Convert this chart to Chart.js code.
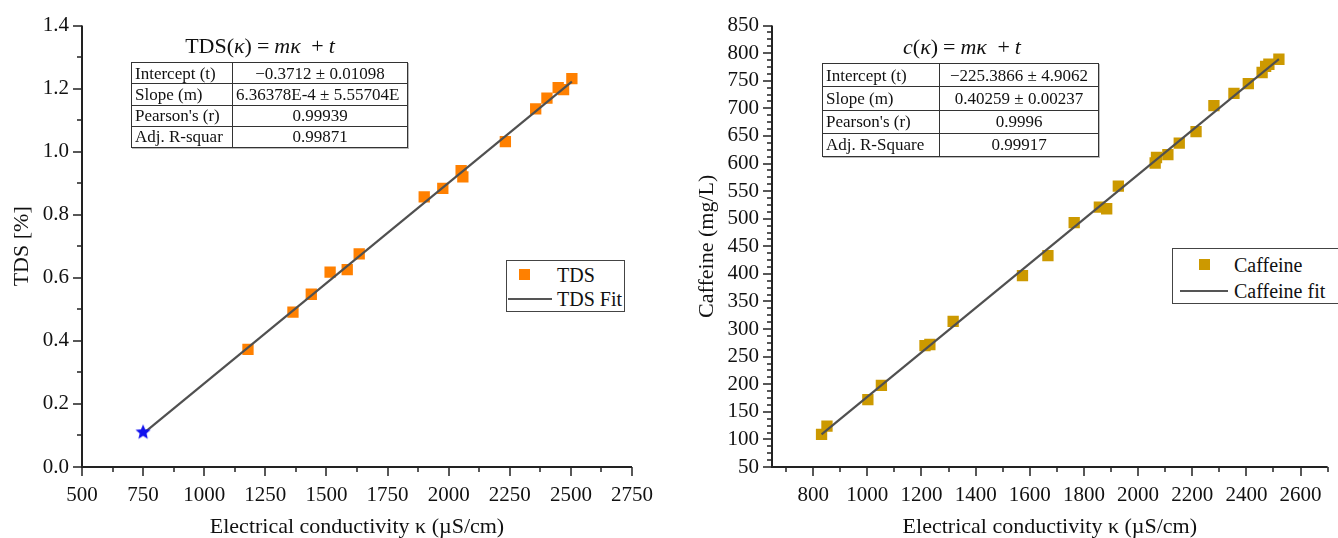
<!DOCTYPE html>
<html>
<head>
<meta charset="utf-8">
<script src="https://cdn.jsdelivr.net/npm/chart.js@4/dist/chart.umd.min.js"></script>
<style>
    html, body { margin: 0; padding: 0; background: #fff; overflow: hidden; }
    #wrap { position: relative; width: 1338px; height: 538px; overflow: hidden; font-family: "Liberation Serif", serif; color: #111; }
    .panel { position: absolute; top: 0; width: 669px; height: 538px; }
    .eq { position: absolute; font-size: 22px; white-space: nowrap; transform: translate(-50%, -50%); }
    .eq i { font-style: italic; }
    .eq .op { padding: 0 5px; }
    table.fit { position: absolute; border-collapse: collapse; font-size: 17px; table-layout: fixed; box-shadow: 1px 1px 0 #bbb; background: #fff; }
    table.fit td { border: 1px solid #333; padding: 0 3px; white-space: nowrap; overflow: hidden; line-height: 1; }
    table.fit td.v { text-align: center; }
    .legend { position: absolute; border: 1.5px solid #444; background: #fff; font-size: 20px; }
    .legend .sq { position: absolute; width: 11px; height: 11px; }
    .legend .ln { position: absolute; height: 2px; background: #555; }
    .legend .lb { position: absolute; white-space: nowrap; transform: translateY(-50%); }
</style>
</head>
<body>
<div id="wrap">
    <div class="panel" style="left:0"><canvas id="tds" width="669" height="538"></canvas></div>
    <div class="panel" style="left:669px"><canvas id="caff" width="669" height="538"></canvas></div>

    <div class="eq" style="left:260px; top:46px">TDS(<i>κ</i>)<span class="op">=</span><i>mκ</i>&nbsp;<span class="op">+</span><i>t</i></div>
    <table class="fit" style="left:131px; top:62px; width:277px; height:86px">
        <colgroup><col style="width:101px"><col></colgroup>
        <tr><td>Intercept (t)</td><td class="v">−0.3712 ± 0.01098</td></tr>
        <tr><td>Slope (m)</td><td class="v" style="text-align:left">6.36378E-4 ± 5.55704E</td></tr>
        <tr><td>Pearson's (r)</td><td class="v">0.99939</td></tr>
        <tr><td>Adj. R-squar</td><td class="v">0.99871</td></tr>
    </table>

    <div class="eq" style="left:962px; top:47px"><i>c</i>(<i>κ</i>)<span class="op">=</span><i>mκ</i>&nbsp;<span class="op">+</span><i>t</i></div>
    <table class="fit" style="left:822px; top:63px; width:277px; height:94px">
        <colgroup><col style="width:117px"><col></colgroup>
        <tr><td>Intercept (t)</td><td class="v">−225.3866 ± 4.9062</td></tr>
        <tr><td>Slope (m)</td><td class="v">0.40259 ± 0.00237</td></tr>
        <tr><td>Pearson's (r)</td><td class="v">0.9996</td></tr>
        <tr><td>Adj. R-Square</td><td class="v">0.99917</td></tr>
    </table>

    <div class="legend" style="left:506px; top:260px; width:117px; height:50px">
        <div class="sq" style="left:12px; top:8px; background:#ff8000"></div>
        <div class="lb" style="left:50px; top:14px">TDS</div>
        <div class="ln" style="left:1px; width:44px; top:37px"></div>
        <div class="lb" style="left:50px; top:38px">TDS Fit</div>
    </div>

    <div class="legend" style="left:1172px; top:248px; width:200px; height:54px">
        <div class="sq" style="left:26px; top:10px; background:#cc9900"></div>
        <div class="lb" style="left:61px; top:16px">Caffeine</div>
        <div class="ln" style="left:7px; width:48px; top:41px"></div>
        <div class="lb" style="left:61px; top:42px">Caffeine fit</div>
    </div>
</div>

<script>
// TDS vs conductivity
const tdsKappa = [1179, 1363, 1438, 1515, 1585, 1634, 1900, 1976, 2051, 2058, 2232, 2356, 2402, 2448, 2470, 2504];
const tdsValue = [0.373, 0.491, 0.548, 0.618, 0.626, 0.676, 0.857, 0.884, 0.940, 0.920, 1.032, 1.136, 1.170, 1.203, 1.197, 1.232];
const tdsStar = [{ x: 750, y: 0.11 }];
const tdsFit = [{ x: 750, y: 0.106 }, { x: 2504, y: 1.222 }];
const tdsXTicks = [500, 750, 1000, 1250, 1500, 1750, 2000, 2250, 2500, 2750];
const tdsYTicks = [0, 0.2, 0.4, 0.6, 0.8, 1.0, 1.2, 1.4];

// Caffeine vs conductivity
const caffKappa = [831, 851, 1002, 1052, 1213, 1231, 1317, 1573, 1667, 1764, 1857, 1884, 1927, 2063, 2068, 2110, 2152, 2214, 2280, 2354, 2407, 2458, 2471, 2483, 2520];
const caffValue = [109, 124, 172, 198, 270, 272, 314, 397, 433, 493, 521, 518, 559, 601, 611, 616, 637, 658, 705, 727, 745, 765, 776, 780, 789];
const caffFit = [{ x: 831, y: 109.2 }, { x: 2520, y: 789.1 }];
const caffXTicks = [800, 1000, 1200, 1400, 1600, 1800, 2000, 2200, 2400, 2600];
const caffYTicks = [50, 100, 150, 200, 250, 300, 350, 400, 450, 500, 550, 600, 650, 700, 750, 800, 850];

const tickFont = { family: 'Liberation Serif', size: 21 };
const titleFont = { family: 'Liberation Serif', size: 22, lineHeight: 1.0 };

function zip(xs, ys) {
    return xs.map((x, i) => ({ x: x, y: ys[i] }));
}

function steps(from, to, step) {
    const out = [];
    for (let v = from; v <= to + step / 1000; v += step) out.push(v);
    return out;
}

// filled 5 point star for the blue marker
function makeStar(r, color) {
    const c = document.createElement('canvas');
    c.width = c.height = r * 2 + 2;
    const g = c.getContext('2d');
    g.fillStyle = color;
    g.beginPath();
    for (let i = 0; i < 10; i++) {
        const rad = i % 2 === 0 ? r : r * 0.45;
        const a = -Math.PI / 2 + i * Math.PI / 5;
        g.lineTo(r + 1 + rad * Math.cos(a), r + 1 + rad * Math.sin(a));
    }
    g.closePath();
    g.fill();
    return c;
}

const axisTicks = {
    id: 'axisTicks',
    afterDraw(chart, args, opts) {
        const { ctx, chartArea: a, scales } = chart;
        const x = scales.x, y = scales.y;
        ctx.save();
        ctx.strokeStyle = '#222';
        ctx.lineWidth = 1.5;
        ctx.beginPath();
        for (const v of opts.xMajor) { const p = Math.round(x.getPixelForValue(v)); ctx.moveTo(p, a.bottom); ctx.lineTo(p, a.bottom + 9); }
        for (const v of opts.xMinor) { const p = Math.round(x.getPixelForValue(v)); ctx.moveTo(p, a.bottom); ctx.lineTo(p, a.bottom + 5); }
        for (const v of opts.yMajor) { const p = Math.round(y.getPixelForValue(v)); ctx.moveTo(a.left, p); ctx.lineTo(a.left - 9, p); }
        for (const v of opts.yMinor) { const p = Math.round(y.getPixelForValue(v)); ctx.moveTo(a.left, p); ctx.lineTo(a.left - 5, p); }
        ctx.stroke();
        ctx.lineWidth = 2;
        ctx.beginPath();
        ctx.moveTo(a.left, a.top);
        ctx.lineTo(a.left, a.bottom);
        ctx.lineTo(a.right, a.bottom);
        ctx.stroke();
        ctx.restore();
    }
};

function makeChart(id, cfg) {
    const ctx = document.querySelector(id).getContext('2d');
    return new Chart(ctx, {
        type: 'scatter',
        data: { datasets: cfg.datasets },
        options: {
            responsive: false,
            animation: false,
            layout: { padding: cfg.padding },
            plugins: {
                legend: { display: false },
                tooltip: { enabled: false },
                axisTicks: cfg.ticks
            },
            scales: {
                x: {
                    type: 'linear',
                    min: cfg.xMin,
                    max: cfg.xMax,
                    afterBuildTicks: s => { s.ticks = cfg.xTicks.map(v => ({ value: v })); },
                    afterFit: s => { s.height = 71; },
                    grid: { display: false, drawTicks: false },
                    border: { display: false },
                    ticks: { font: tickFont, color: '#111', padding: 16, maxRotation: 0, autoSkip: false, callback: v => String(v) },
                    title: { display: true, text: 'Electrical conductivity κ (µS/cm)', font: titleFont, color: '#111', padding: { top: 0, bottom: 0 } }
                },
                y: {
                    type: 'linear',
                    min: cfg.yMin,
                    max: cfg.yMax,
                    afterBuildTicks: s => { s.ticks = cfg.yTicks.map(v => ({ value: v })); },
                    afterFit: s => { s.width = cfg.yWidth; },
                    grid: { display: false, drawTicks: false },
                    border: { display: false },
                    ticks: { font: tickFont, color: '#111', padding: 13, autoSkip: false, callback: cfg.yFormat },
                    title: { display: true, text: cfg.yTitle, font: titleFont, color: '#111', padding: { top: cfg.yTitlePad, bottom: 0 } }
                }
            }
        },
        plugins: [axisTicks]
    });
}

makeChart('#tds', {
    padding: { left: 0, top: 19, right: 30, bottom: 0 },
    xMin: 500, xMax: 2750, yMin: 0, yMax: 1.4,
    xTicks: tdsXTicks, yTicks: tdsYTicks,
    yWidth: 82, yTitle: 'TDS [%]', yTitlePad: 11,
    yFormat: v => v.toFixed(1),
    ticks: { xMajor: tdsXTicks, xMinor: steps(625, 2625, 250), yMajor: tdsYTicks, yMinor: steps(0.1, 1.3, 0.2) },
    datasets: [
        { label: 'Star', data: tdsStar, pointStyle: makeStar(8, '#1010ee'), pointRadius: 8 },
        { label: 'TDS Fit', data: tdsFit, showLine: true, borderColor: '#505050', borderWidth: 2.2, pointRadius: 0 },
        { label: 'TDS', data: zip(tdsKappa, tdsValue), pointStyle: 'rect', pointRadius: 8, backgroundColor: '#ff8000', borderWidth: 0 }
    ]
});

makeChart('#caff', {
    padding: { left: 0, top: 19, right: 9, bottom: 0 },
    xMin: 648, xMax: 2700, yMin: 50, yMax: 850,
    xTicks: caffXTicks, yTicks: caffYTicks,
    yWidth: 103, yTitle: 'Caffeine (mg/L)', yTitlePad: 27,
    yFormat: v => String(v),
    ticks: { xMajor: caffXTicks, xMinor: steps(700, 2700, 200), yMajor: caffYTicks, yMinor: steps(50, 850, 12.5).filter(v => v % 50 !== 0) },
    datasets: [
        { label: 'Caffeine fit', data: caffFit, showLine: true, borderColor: '#505050', borderWidth: 2.2, pointRadius: 0 },
        { label: 'Caffeine', data: zip(caffKappa, caffValue), pointStyle: 'rect', pointRadius: 8, backgroundColor: '#cc9900', borderWidth: 0 }
    ]
});
</script>
</body>
</html>
